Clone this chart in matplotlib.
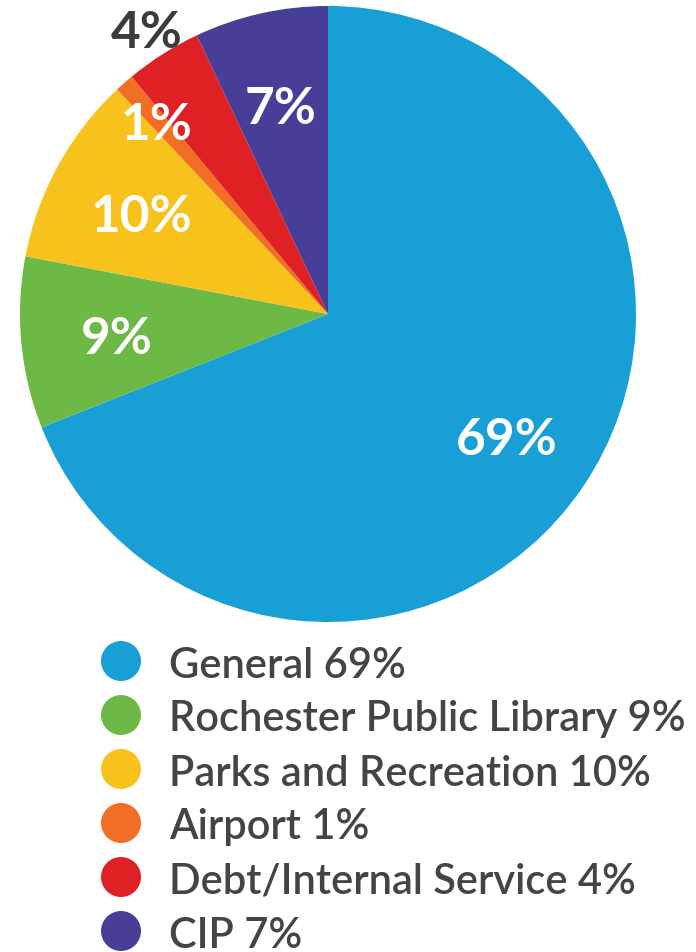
import matplotlib.pyplot as plt
import numpy as np

# datos del gráfico
categorias = ['General', 'Rochester Public Library', 'Parks and Recreation',
              'Airport', 'Debt/Internal Service', 'CIP']
valores = [69, 9, 10, 1, 4, 7]
colores = ['#189fd6', '#6cba45', '#f6c21b', '#f26e24', '#df2126', '#463e97']
# distancia radial de cada etiqueta (fracción del radio)
dist_etiqueta = [0.70, 0.69, 0.69, 0.84, 1.10, 0.70]
color_etiqueta = ['white', 'white', 'white', 'white', '#3b3b3b', 'white']

TEXTO = '#444444'
W, H = 696, 953

fig = plt.figure(figsize=(W / 100, H / 100), dpi=100)
fig.patch.set_facecolor('white')

# pie: centro (328, 315) px, radio 308 px
cx, cy, r = 328, 315, 308
ax = fig.add_axes([(cx - r) / W, 1 - (cy + r) / H, 2 * r / W, 2 * r / H])
wedges, _ = ax.pie(valores, colors=colores, startangle=90, counterclock=False,
                   radius=1, wedgeprops=dict(linewidth=0))
ax.set_xlim(-1, 1)
ax.set_ylim(-1, 1)
ax.set_aspect('equal')
ax.axis('off')

for w, v, d, c in zip(wedges, valores, dist_etiqueta, color_etiqueta):
    ang = np.deg2rad((w.theta1 + w.theta2) / 2)
    ax.text(d * np.cos(ang), d * np.sin(ang), f'{v}%', color=c,
            fontsize=37, fontweight='bold', family=['Lato', 'DejaVu Sans'],
            ha='center', va='center_baseline', clip_on=False)

# leyenda manual
top_px, fila_px = 635, 54
n = len(categorias)
axl = fig.add_axes([0, 1 - (top_px + fila_px * n) / H, 1, fila_px * n / H])
axl.set_xlim(0, W)
axl.set_ylim(n - 0.5, -0.5)
axl.axis('off')
filas = np.arange(n)
axl.scatter(np.full(n, 121), filas, s=(40 * 0.72) ** 2, c=colores,
            edgecolors='none', clip_on=False)
for i, (cat, v) in enumerate(zip(categorias, valores)):
    axl.text(169, i, f'{cat} {v}%', color=TEXTO, fontsize=30,
             fontweight='semibold', family=['Lato', 'DejaVu Sans'],
             ha='left', va='center_baseline')

plt.savefig('out.png', dpi=100, facecolor='white')
